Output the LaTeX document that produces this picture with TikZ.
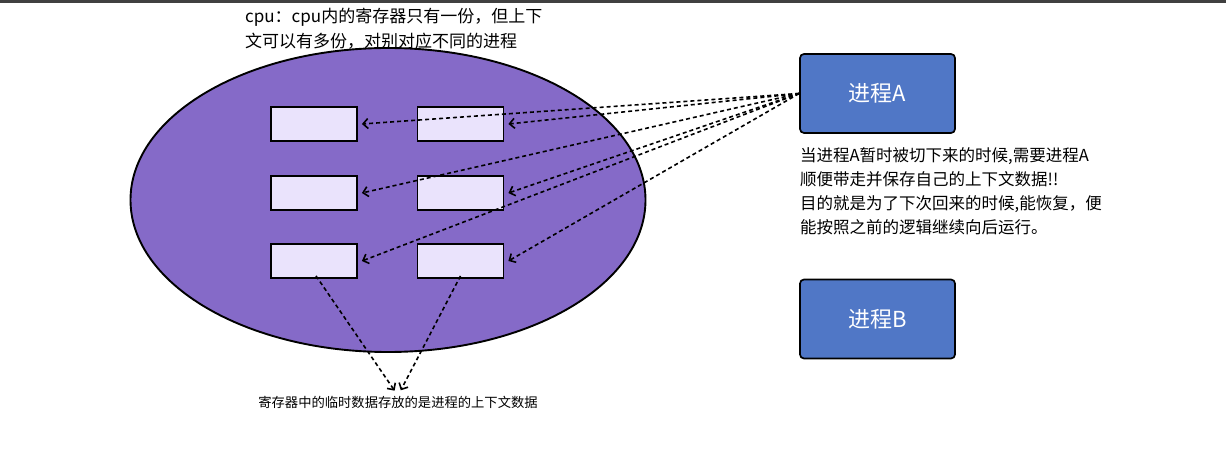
\documentclass[tikz,border=0pt]{standalone}
\usepackage{fontspec}
\newfontfamily\cjk{Noto Sans CJK SC}
\usetikzlibrary{arrows.meta,shapes.geometric,positioning}
\definecolor{cpupurple}{RGB}{133,106,200}
\definecolor{reglilac}{RGB}{234,227,252}
\definecolor{procblue}{RGB}{80,119,198}

\begin{document}
\begin{tikzpicture} [
	   x=1pt, y=-1pt,
	   every node/.style = { font=\cjk },
	   cpu/.style      = { ellipse, draw=black, line width=1.9pt, fill=cpupurple, minimum width=515pt, minimum height=304pt },
	   reg/.style      = { rectangle, draw=black, line width=1.8pt, fill=reglilac, minimum width=86pt, minimum height=34pt, inner sep=0pt },
	   proc/.style     = { rectangle, rounded corners=4pt, draw=black, line width=1.7pt, fill=procblue, text=white,
	                       minimum width=155pt, minimum height=79pt, font=\cjk\fontsize{22}{26}\selectfont },
	   note/.style     = { align=left, inner sep=0pt },
	   save/.style     = { draw, line width=1.6pt, dash pattern=on 4pt off 3pt, -{Straight Barb[length=5pt,width=10pt]} },
	 ]
	  \useasboundingbox (0,0) rectangle (1226,454);
	  \fill[black!75] (0,0) rectangle (1226,3);

	  % cpu and its registers
	  \node [cpu] (cpu) at (388,200) {};
	  \node [reg] (r11) at (314,124) {};
	  \node [reg] (r12) at (460.5,124) {};
	  \node [reg] (r21) at (314,193) {};
	  \node [reg] (r22) at (460.5,193) {};
	  \node [reg] (r31) at (314,261) {};
	  \node [reg] (r32) at (460.5,261) {};

	  % processes
	  \node [proc] (procA) at (877.5,93.5) {进程A};
	  \node [proc] (procB) at (877.5,319) {进程B};

	  % texts
	  \node [note, anchor=north west, font=\cjk\fontsize{17}{25}\selectfont] (cpunote) at (245,8)
	        {cpu：cpu内的寄存器只有一份，但上下\\文可以有多份，对别对应不同的进程};
	  \node [note, anchor=north west, font=\cjk\fontsize{16.5}{24}\selectfont] (switchnote) at (800,147)
	        {当进程A暂时被切下来的时候,需要进程A\\顺便带走并保存自己的上下文数据!!\\目的就是为了下次回来的时候,能恢复，便\\能按照之前的逻辑继续向后运行。};
	  \node [note, font=\cjk\fontsize{13.3}{16}\selectfont] (datanote) at (398,402)
	        {寄存器中的临时数据存放的是进程的上下文数据};

	  % connect all nodes defined above
	  \foreach \r in {11,12,21,22,31,32}
	    \path [save] (procA.west) -- ([xshift=4pt]r\r.east);
	  \path [save, shorten >=6pt] ([xshift=2pt,yshift=3pt]r31.south) -- (datanote.north);
	  \path [save, shorten >=6pt] ([yshift=3pt]r32.south) -- (datanote.north);
\end{tikzpicture}
\end{document}
